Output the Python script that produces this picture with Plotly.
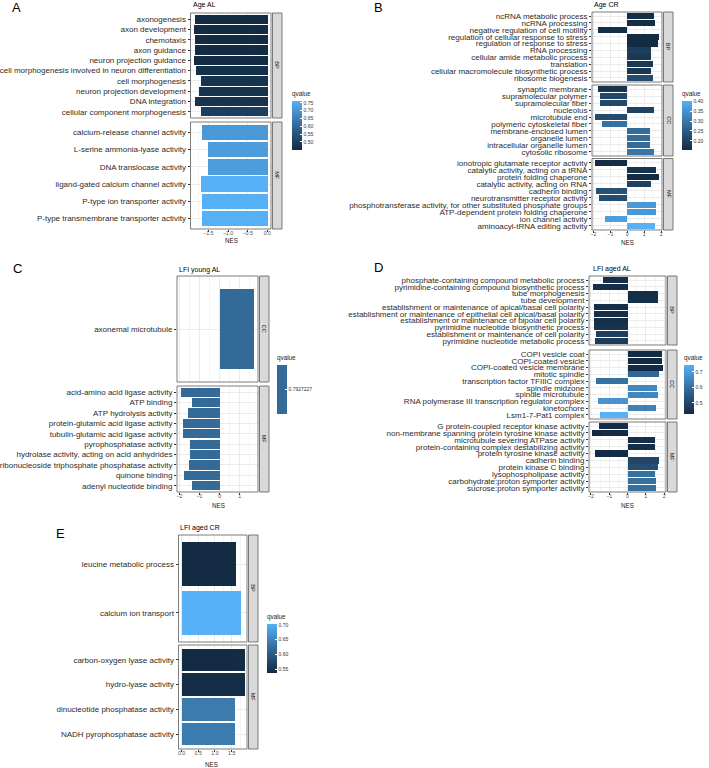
import plotly.graph_objects as go

W, H = 709, 768

# ---------------- data ----------------
A_BP_terms = ["axonogenesis", "axon development", "chemotaxis", "axon guidance",
              "neuron projection guidance", "cell morphogenesis involved in neuron differentiation",
              "cell morphogenesis", "neuron projection development", "DNA integration",
              "cellular component morphogenesis"]
A_BP_nes = [-1.86, -1.87, -1.86, -1.86, -1.87, -1.82, -1.71, -1.75, -1.84, -1.71]
A_BP_q = [0.4475, 0.45, 0.45, 0.45, 0.45, 0.46, 0.47, 0.47, 0.47, 0.50]
A_MF_terms = ["calcium-release channel activity", "L-serine ammonia-lyase activity",
              "DNA translocase activity", "ligand-gated calcium channel activity",
              "P-type ion transporter activity", "P-type transmembrane transporter activity"]
A_MF_nes = [-1.67, -1.52, -1.52, -1.69, -1.67, -1.67]
A_MF_q = [0.71, 0.72, 0.72, 0.7625, 0.76, 0.76]

B_BP_terms = ["ncRNA metabolic process", "ncRNA processing", "negative regulation of cell motility",
              "regulation of cellular response to stress", "regulation of response to stress",
              "RNA processing", "cellular amide metabolic process", "translation",
              "cellular macromolecule biosynthetic process", "ribosome biogenesis"]
B_BP_nes = [1.56, 1.62, -1.74, 1.85, 1.81, 1.42, 1.42, 1.52, 1.42, 1.52]
B_BP_q = [0.16, 0.16, 0.16, 0.155, 0.155, 0.19, 0.18, 0.18, 0.18, 0.22]
B_CC_terms = ["synaptic membrane", "supramolecular polymer", "supramolecular fiber", "nucleolus",
              "microtubule end", "polymeric cytoskeletal fiber", "membrane-enclosed lumen",
              "organelle lumen", "intracellular organelle lumen", "cytosolic ribosome"]
B_CC_nes = [-1.74, -1.60, -1.60, 1.56, -1.89, -1.50, 1.32, 1.32, 1.32, 1.58]
B_CC_q = [0.17, 0.21, 0.21, 0.20, 0.22, 0.29, 0.28, 0.28, 0.28, 0.30]
B_MF_terms = ["ionotropic glutamate receptor activity", "catalytic activity, acting on a tRNA",
              "protein folding chaperone", "catalytic activity, acting on RNA", "cadherin binding",
              "neurotransmitter receptor activity",
              "phosphotransferase activity, for other substituted phosphate groups",
              "ATP-dependent protein folding chaperone", "ion channel activity",
              "aminoacyl-tRNA editing activity"]
B_MF_nes = [-1.89, 1.71, 1.85, 1.42, -1.85, -1.64, 1.71, 1.67, -1.34, 1.62]
B_MF_q = [0.155, 0.17, 0.153, 0.20, 0.23, 0.22, 0.36, 0.36, 0.37, 0.403]

C_CC_terms = ["axonemal microtubule"]
C_CC_nes = [1.73]
C_CC_q = [0.7927227]
C_MF_terms = ["acid-amino acid ligase activity", "ATP binding", "ATP hydrolysis activity",
              "protein-glutamic acid ligase activity", "tubulin-glutamic acid ligase activity",
              "pyrophosphatase activity", "hydrolase activity, acting on acid anhydrides",
              "ribonucleoside triphosphate phosphatase activity", "quinone binding",
              "adenyl nucleotide binding"]
C_MF_nes = [-1.94, -1.36, -1.58, -1.81, -1.81, -1.45, -1.45, -1.50, -1.78, -1.35]
C_MF_q = [0.7927227] * 10

D_BP_terms = ["phosphate-containing compound metabolic process",
              "pyrimidine-containing compound biosynthetic process", "tube morphogenesis",
              "tube development", "establishment or maintenance of apical/basal cell polarity",
              "establishment or maintenance of epithelial cell apical/basal polarity",
              "establishment or maintenance of bipolar cell polarity",
              "pyrimidine nucleotide biosynthetic process",
              "establishment or maintenance of cell polarity",
              "pyrimidine nucleotide metabolic process"]
D_BP_nes = [-1.32, -1.87, 1.69, 1.69, -1.82, -1.82, -1.82, -1.82, -1.74, -1.80]
D_BP_q = [0.44, 0.44, 0.44, 0.44, 0.44, 0.44, 0.44, 0.45, 0.48, 0.47]
D_CC_terms = ["COPI vesicle coat", "COPI-coated vesicle", "COPI-coated vesicle membrane",
              "mitotic spindle", "transcription factor TFIIIC complex", "spindle midzone",
              "spindle microtubule", "RNA polymerase III transcription regulator complex",
              "kinetochore", "Lsm1-7-Pat1 complex"]
D_CC_nes = [1.87, 1.87, 1.91, 1.73, -1.74, 1.60, 1.64, -1.62, 1.55, -1.52]
D_CC_q = [0.43, 0.43, 0.43, 0.58, 0.60, 0.65, 0.65, 0.68, 0.64, 0.745]
D_MF_terms = ["G protein-coupled receptor kinase activity",
              "non-membrane spanning protein tyrosine kinase activity",
              "microtubule severing ATPase activity",
              "protein-containing complex destabilizing activity",
              "protein tyrosine kinase activity", "cadherin binding", "protein kinase C binding",
              "lysophospholipase activity", "carbohydrate:proton symporter activity",
              "sucrose:proton symporter activity"]
D_MF_nes = [-1.58, -1.91, 1.51, 1.51, -1.78, 1.74, 1.64, 1.49, 1.57, 1.57]
D_MF_q = [0.44, 0.43, 0.44, 0.44, 0.43, 0.50, 0.52, 0.60, 0.60, 0.60]

E_BP_terms = ["leucine metabolic process", "calcium ion transport"]
E_BP_nes = [1.61, 1.75]
E_BP_q = [0.537, 0.703]
E_MF_terms = ["carbon-oxygen lyase activity", "hydro-lyase activity",
              "dinucleotide phosphatase activity", "NADH pyrophosphatase activity"]
E_MF_nes = [1.87, 1.87, 1.59, 1.59]
E_MF_q = [0.537, 0.54, 0.64, 0.64]

# ---------------- colour scale (ggplot default, Lab interpolation) ----------------
def _hex2rgb(h):
    h = h.lstrip('#')
    return [int(h[i:i + 2], 16) for i in (0, 2, 4)]

def _rgb2lab(rgb):
    def lin(c):
        c = c / 255.0
        return c / 12.92 if c <= 0.04045 else ((c + 0.055) / 1.055) ** 2.4
    r, g, b = [lin(c) for c in rgb]
    X = 0.4124 * r + 0.3576 * g + 0.1805 * b
    Y = 0.2126 * r + 0.7152 * g + 0.0722 * b
    Z = 0.0193 * r + 0.1192 * g + 0.9505 * b
    def f(t):
        return t ** (1 / 3) if t > 0.008856 else 7.787 * t + 16 / 116
    fx, fy, fz = f(X / 0.95047), f(Y / 1.0), f(Z / 1.08883)
    return [116 * fy - 16, 500 * (fx - fy), 200 * (fy - fz)]

def _lab2hex(lab):
    L, a, b = lab
    fy = (L + 16) / 116
    fx = fy + a / 500
    fz = fy - b / 200
    def finv(t):
        return t ** 3 if t ** 3 > 0.008856 else (t - 16 / 116) / 7.787
    X, Y, Z = finv(fx) * 0.95047, finv(fy), finv(fz) * 1.08883
    r = 3.2406 * X - 1.5372 * Y - 0.4986 * Z
    g = -0.9689 * X + 1.8758 * Y + 0.0415 * Z
    bb = 0.0557 * X - 0.2040 * Y + 1.0570 * Z
    def gam(c):
        c = 12.92 * c if c <= 0.0031308 else 1.055 * c ** (1 / 2.4) - 0.055
        return max(0, min(255, round(c * 255)))
    return '#%02x%02x%02x' % (gam(r), gam(g), gam(bb))

LOW, HIGH = _rgb2lab(_hex2rgb('#132B43')), _rgb2lab(_hex2rgb('#56B1F7'))
def lab_at(t):
    return _lab2hex([LOW[i] + (HIGH[i] - LOW[i]) * t for i in range(3)])

SCALE = [[i / 10, lab_at(i / 10)] for i in range(11)]
MID = lab_at(0.5)

# ---------------- layout configuration ----------------
FONT = "Liberation Sans"
MINUS = "\u2212"

def fmt(v, d):
    s = f"{abs(v):.{d}f}"
    return (MINUS + s) if v < 0 else s

panels = [
    dict(letter="A", lpos=(16.5, 8), title="Age AL", tpos=(190.5, 5),
         x0=190.5, x1=271, xr=[-1.953, 0.093], ticks=[-1.5, -1.0, -0.5, 0.0], dec=1,
         minor=[-1.75, -1.25, -0.75, -0.25], nes_pos=(231, 241),
         facets=[("BP", A_BP_terms, A_BP_nes, A_BP_q, 13, 118),
                 ("MF", A_MF_terms, A_MF_nes, A_MF_q, 122, 229)],
         cmin=0.4475, cmax=0.7625, cb=(292, 100), cbt=[0.50, 0.55, 0.60, 0.65, 0.70, 0.75], cbd=2),
    dict(letter="B", lpos=(379, 8), title="Age CR", tpos=(592, 5),
         x0=592, x1=662, xr=[-2.08, 2.04], ticks=[-2, -1, 0, 1, 2], dec=0,
         minor=[-1.5, -0.5, 0.5, 1.5], nes_pos=(627, 242),
         facets=[("BP", B_BP_terms, B_BP_nes, B_BP_q, 12, 82),
                 ("CC", B_CC_terms, B_CC_nes, B_CC_q, 85, 156),
                 ("MF", B_MF_terms, B_MF_nes, B_MF_q, 158.5, 230)],
         cmin=0.153, cmax=0.403, cb=(682, 100), cbt=[0.20, 0.25, 0.30, 0.35, 0.40], cbd=2),
    dict(letter="C", lpos=(17.5, 268.5), title="LFI young AL", tpos=(177, 270),
         x0=177, x1=258, xr=[-2.12, 1.91], ticks=[-2, -1, 0, 1], dec=0,
         minor=[-1.5, -0.5, 0.5, 1.5], nes_pos=(218, 505),
         facets=[("CC", C_CC_terms, C_CC_nes, C_CC_q, 276, 382),
                 ("MF", C_MF_terms, C_MF_nes, C_MF_q, 386, 492)],
         cmin=0.79, cmax=0.7955, cb=(277, 364), cbt=[0.7927227], cbd=7, single=True),
    dict(letter="D", lpos=(378.5, 267.5), title="LFI aged AL", tpos=(591, 269.5),
         x0=589, x1=666, xr=[-2.10, 2.10], ticks=[-2, -1, 0, 1, 2], dec=0,
         minor=[-1.5, -0.5, 0.5, 1.5], nes_pos=(627, 505),
         facets=[("BP", D_BP_terms, D_BP_nes, D_BP_q, 276, 345),
                 ("CC", D_CC_terms, D_CC_nes, D_CC_q, 350, 419),
                 ("MF", D_MF_terms, D_MF_nes, D_MF_q, 422, 492)],
         cmin=0.429, cmax=0.745, cb=(684, 364), cbt=[0.5, 0.6, 0.7], cbd=1),
    dict(letter="E", lpos=(60.5, 533), title="LFI aged CR", tpos=(178, 528),
         x0=178.5, x1=247, xr=[-0.094, 1.96], ticks=[0.0, 0.5, 1.0, 1.5], dec=1,
         minor=[0.25, 0.75, 1.25, 1.75], nes_pos=(212, 764),
         facets=[("BP", E_BP_terms, E_BP_nes, E_BP_q, 535, 642),
                 ("MF", E_MF_terms, E_MF_nes, E_MF_q, 645, 749)],
         cmin=0.537, cmax=0.703, cb=(267, 623), cbt=[0.55, 0.60, 0.65, 0.70], cbd=2),
]

fig = go.Figure()
lay = dict(width=W, height=H, margin=dict(l=0, r=0, t=0, b=0, pad=0, autoexpand=False),
           paper_bgcolor="white", plot_bgcolor="white", showlegend=False,
           font=dict(family=FONT, color="#333333"), bargap=0)
shapes, annos = [], []
BORDER = "#5a5a5a"
GRID = "#EBEBEB"
GRIDMIN = "#F4F4F4"
CB_TITLE_H = 12

k = 0
for p_i, P in enumerate(panels, start=1):
    cax = "coloraxis" if p_i == 1 else f"coloraxis{p_i}"
    cbx, cby = P["cb"]
    colorbar = dict(x=cbx / W, xanchor="left", y=1 - (cby - CB_TITLE_H) / H, yanchor="top",
                    lenmode="pixels", len=50 + CB_TITLE_H, thicknessmode="pixels", thickness=10,
                    xpad=0, ypad=0, outlinewidth=0,
                    title=dict(text="qvalue", side="top", font=dict(size=6.3, color="#1a1a1a")),
                    tickvals=P["cbt"], ticktext=[f"{v:.{P['cbd']}f}" for v in P["cbt"]],
                    tickfont=dict(size=5, color="#333333"),
                    ticks="inside", ticklen=2, tickcolor="white", tickwidth=0.6)
    scale = [[0, MID], [1, MID]] if P.get("single") else SCALE
    lay[cax] = dict(cmin=P["cmin"], cmax=P["cmax"], colorscale=scale, colorbar=colorbar)

    nf = len(P["facets"])
    for f_i, (lab, terms, nes, q, y0, y1) in enumerate(P["facets"]):
        k += 1
        xa = "xaxis" if k == 1 else f"xaxis{k}"
        ya = "yaxis" if k == 1 else f"yaxis{k}"
        xs = "x" if k == 1 else f"x{k}"
        ys = "y" if k == 1 else f"y{k}"
        bottom = (f_i == nf - 1)
        n = len(terms)
        fig.add_trace(go.Bar(x=nes, y=terms, orientation="h", width=0.9,
                             marker=dict(color=q, coloraxis=cax, line=dict(width=0)),
                             xaxis=xs, yaxis=ys, hoverinfo="x+y"))
        lay[xa] = dict(domain=[P["x0"] / W, P["x1"] / W], anchor=ys, range=P["xr"],
                       tickmode="array", tickvals=P["ticks"],
                       ticktext=[fmt(v, P["dec"]) for v in P["ticks"]],
                       showticklabels=bottom, ticks="outside" if bottom else "",
                       ticklen=2, tickwidth=0.6, tickcolor="#333333",
                       ticklabelstandoff=-3,
                       tickfont=dict(size=5.3, color="#4D4D4D"),
                       showgrid=True, gridcolor=GRID, gridwidth=0.7, zeroline=False,
                       minor=dict(tickmode="array", tickvals=P["minor"], showgrid=True,
                                  gridcolor=GRIDMIN, gridwidth=0.5, ticks=""),
                       showline=False, automargin=False, fixedrange=True)
        lay[ya] = dict(domain=[1 - y1 / H, 1 - y0 / H], anchor=xs, type="category",
                       categoryorder="array", categoryarray=terms,
                       tickmode="array", tickvals=terms, ticktext=terms,
                       range=[n - 0.4, -0.6], ticks="outside", ticklen=2, tickwidth=0.6,
                       tickcolor="#333333", tickfont=dict(size=8, color="#2b2b2b"),
                       showgrid=True, gridcolor=GRID, gridwidth=0.7, zeroline=False,
                       showline=False, automargin=False, fixedrange=True)
        # panel border
        shapes.append(dict(type="rect", xref="paper", yref="paper",
                           x0=P["x0"] / W, x1=P["x1"] / W, y0=1 - y1 / H, y1=1 - y0 / H,
                           line=dict(color=BORDER, width=0.8), fillcolor="rgba(0,0,0,0)",
                           layer="above"))
        # strip
        sx0, sx1 = P["x1"] + 1.5, P["x1"] + 11
        shapes.append(dict(type="rect", xref="paper", yref="paper",
                           x0=sx0 / W, x1=sx1 / W, y0=1 - y1 / H, y1=1 - y0 / H,
                           line=dict(color=BORDER, width=0.8), fillcolor="#D9D9D9",
                           layer="above"))
        annos.append(dict(text=lab, xref="paper", yref="paper", x=(sx0 + sx1) / 2 / W,
                          y=1 - (y0 + y1) / 2 / H, showarrow=False, textangle=90,
                          font=dict(size=5.5, color="#1A1A1A"), xanchor="center",
                          yanchor="middle"))

    # panel letter, title, x-axis title
    lx, ly = P["lpos"]
    annos.append(dict(text=P["letter"], xref="paper", yref="paper", x=lx / W, y=1 - ly / H,
                      showarrow=False, xanchor="center", yanchor="middle",
                      font=dict(size=13, color="black")))
    tx, ty = P["tpos"]
    annos.append(dict(text=P["title"], xref="paper", yref="paper", x=tx / W, y=1 - ty / H,
                      showarrow=False, xanchor="left", yanchor="middle",
                      font=dict(size=7, color="black")))
    nx, ny = P["nes_pos"]
    annos.append(dict(text="NES", xref="paper", yref="paper", x=nx / W, y=1 - ny / H,
                      showarrow=False, xanchor="center", yanchor="middle",
                      font=dict(size=6.3, color="#1a1a1a")))

lay["shapes"] = shapes
lay["annotations"] = annos
fig.update_layout(**lay)
fig.write_html("out.html")
